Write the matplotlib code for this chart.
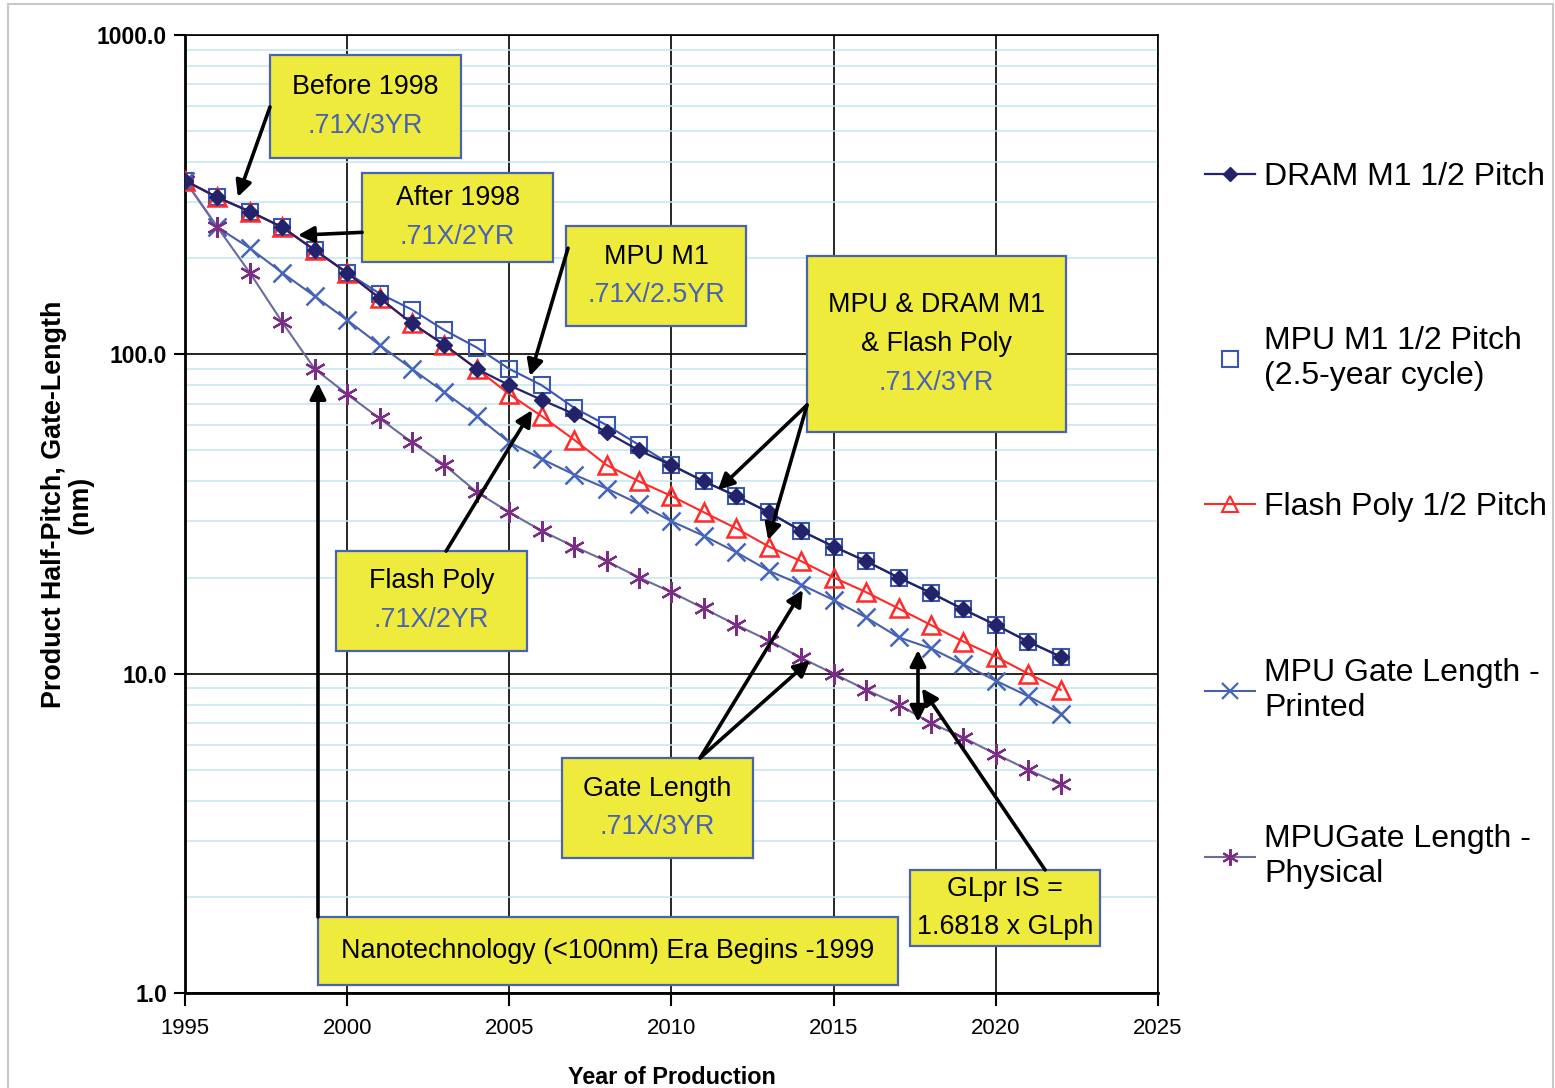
import matplotlib
matplotlib.use("Agg")
import matplotlib.pyplot as plt
from matplotlib import font_manager
from matplotlib.lines import Line2D
from matplotlib.patches import Rectangle
from matplotlib.ticker import LogLocator, NullFormatter

years = list(range(1995, 2023))

dram = [350, 310, 280, 250, 212, 180, 150, 125, 107, 90, 80, 72, 65, 57,
        50, 45, 40, 36, 32, 28, 25, 22.5, 20, 17.9, 15.9, 14.2, 12.6, 11.3]
mpu_m1 = [350, 310, 280, 250, 212, 180, 155, 138, 119, 105, 90, 80, 68, 60,
          52, 45, 40, 36, 32, 28, 25, 22.5, 20, 17.9, 15.9, 14.2, 12.6, 11.3]
flash = [350, 310, 280, 250, 212, 180, 150, 125, 107, 90, 75, 64, 54, 45,
         40, 36, 32, 28.5, 25, 22.5, 20, 18, 16, 14.2, 12.6, 11.3, 10, 8.9]
gl_printed = [350, 250, 215, 180, 152, 128, 107, 90, 76, 64, 53, 47, 42, 38,
              34, 30, 27, 24, 21, 19, 17, 15, 13, 12, 10.7, 9.5, 8.5, 7.5]
gl_physical = [350, 250, 180, 126, 90, 75, 63, 53, 45, 37, 32, 28, 25, 22.5,
               20, 18, 16, 14.2, 12.7, 11.2, 10, 8.9, 8, 7, 6.3, 5.6, 5, 4.5]

labels = ["DRAM M1 1/2 Pitch", "MPU M1 1/2 Pitch\n(2.5-year cycle)",
          "Flash Poly 1/2 Pitch", "MPU Gate Length -\nPrinted",
          "MPUGate Length -\nPhysical"]

ytick_vals = [1, 10, 100, 1000]
ytick_labels = ["1.0", "10.0", "100.0", "1000.0"]

names = {f.name for f in font_manager.fontManager.ttflist}
if "Liberation Sans Narrow" in names:
    narrow, nk = "Liberation Sans Narrow", 1.0
else:
    narrow, nk = "Liberation Sans", 0.84
plt.rcParams["font.family"] = ["Liberation Sans", "DejaVu Sans"]

W, H = 1555, 1088
fig = plt.figure(figsize=(W / 100, H / 100), dpi=100)
ax = fig.add_axes([185 / W, 1 - 993 / H, 973 / W, 958 / H])

fig.patches.append(Rectangle((8 / W, -0.01), 1 - 10 / W, 1 - 4 / H + 0.01,
                             transform=fig.transFigure, fill=False,
                             ec="#c8c8c8", lw=1.5))

c_dram = "#23236b"
c_mpu = "#3a56b0"
c_flash = "#ff2a2a"
c_pr = "#4466bb"
c_ph = "#7b2d86"

ax.plot(years, mpu_m1, color=c_mpu, lw=1.5, marker="s", ms=12, mfc="none",
        mec=c_mpu, mew=1.5, zorder=3)
ax.plot(years, dram, color=c_dram, lw=1.6, marker="D", ms=8, mfc=c_dram,
        mec=c_dram, zorder=5)
ax.plot(years, flash, color=c_flash, lw=1.5, marker="^", ms=13, mfc="none",
        mec=c_flash, mew=1.8, zorder=4)
ax.plot(years, gl_printed, color="#4a5fa8", lw=1.5, marker="x", ms=13,
        mec=c_pr, mew=1.8, zorder=3)
ax.plot(years, gl_physical, color="#6b6b9e", lw=1.5, marker=(6, 2, 0), ms=15,
        mec=c_ph, mew=1.6, zorder=3)

ax.set_yscale("log")
ax.set_ylim(1, 1000)
ax.set_xlim(1995, 2025)
ax.set_xticks(range(1995, 2026, 5))
ax.set_yticks(ytick_vals)
ax.set_yticklabels(ytick_labels)
ax.yaxis.set_minor_locator(LogLocator(base=10, subs=range(2, 10)))
ax.yaxis.set_minor_formatter(NullFormatter())
ax.tick_params(axis="y", which="minor", length=0)
ax.tick_params(axis="y", which="major", length=8, width=1.5, pad=5)
ax.tick_params(axis="x", which="major", length=9, width=1.5, pad=9)
for t in ax.get_yticklabels():
    t.set_fontsize(16.5)
    t.set_fontweight("bold")
for t in ax.get_xticklabels():
    t.set_fontsize(19 * nk)
    t.set_family(narrow)

ax.grid(which="major", color="black", lw=1.2)
ax.grid(which="minor", axis="y", color="#c5e5ef", lw=1.1)
ax.set_axisbelow(True)
for s in ax.spines.values():
    s.set_linewidth(1.2)
ax.spines["left"].set_linewidth(2)
ax.spines["bottom"].set_linewidth(2)

ax.set_ylabel("Product Half-Pitch, Gate-Length\n(nm)", fontsize=23 * nk,
              fontweight="bold", family=narrow, linespacing=1.05)
ax.yaxis.set_label_coords(-0.094, 0.51)
ax.set_xlabel("Year of Production", fontsize=20 * nk, fontweight="bold",
              family=narrow)
ax.xaxis.set_label_coords(0.5, -0.076)

# annotation boxes: (x0, x1, y0, y1) in data units
fs = 23 * nk
step = 28
yellow = "#eeeb3c"
blue_txt = "#4a63b0"


def box(ext, lines, colors):
    x0, x1, y0, y1 = ext
    ax.add_patch(Rectangle((x0, y0), x1 - x0, y1 - y0, fc=yellow,
                           ec="#4a63b0", lw=1.6, zorder=6))
    xc, yc = (x0 + x1) / 2, (y0 * y1) ** 0.5
    n = len(lines)
    for i, (ln, c) in enumerate(zip(lines, colors)):
        off = ((n - 1) / 2 - i) * step
        ax.annotate(ln, xy=(xc, yc), xytext=(0, off), textcoords="offset points",
                    ha="center", va="center", fontsize=fs, family=narrow,
                    color=c, zorder=7)


def arrow(start, tip, style="-|>"):
    ax.annotate("", xy=tip, xytext=start, zorder=8,
                arrowprops=dict(arrowstyle=style, color="black", lw=2.6,
                                mutation_scale=24, shrinkA=0, shrinkB=0))


box((1997.62, 2003.51, 412, 866), ["Before 1998", ".71X/3YR"], ["black", blue_txt])
arrow((1997.62, 595), (1996.63, 311))

box((2000.46, 2006.35, 194.7, 369.8), ["After 1998", ".71X/2YR"], ["black", blue_txt])
arrow((2000.46, 241), (1998.48, 236))

box((2006.75, 2012.30, 122.7, 252.3), ["MPU M1", ".71X/2.5YR"], ["black", blue_txt])
arrow((2006.81, 215), (2005.64, 85.5))

box((2014.18, 2022.16, 57.1, 203.2), ["MPU & DRAM M1", "& Flash Poly", ".71X/3YR"],
    ["black", "black", blue_txt])
arrow((2014.18, 69.4), (2011.43, 37.6))
arrow((2014.18, 69.4), (2012.98, 26.2))

box((1999.66, 2005.54, 11.78, 24.23), ["Flash Poly", ".71X/2YR"], ["black", blue_txt])
arrow((2003.05, 24.2), (2005.70, 66.9))

box((2006.62, 2012.51, 2.647, 5.445), ["Gate Length", ".71X/3YR"], ["black", blue_txt])
arrow((2010.88, 5.445), (2014.05, 18.3))
arrow((2010.88, 5.445), (2014.27, 11.0))

box((2017.35, 2023.21, 1.404, 2.428), ["GLpr IS =", "1.6818 x GLph"], ["black", "black"])
arrow((2021.52, 2.428), (2017.72, 9.0))
arrow((2017.60, 7.06), (2017.60, 11.86), style="<|-|>")

box((1999.10, 2016.98, 1.059, 1.730), ["Nanotechnology (<100nm) Era Begins -1999"], ["black"])
arrow((1999.10, 1.730), (1999.10, 81.4))

# legend
handles = [
    Line2D([], [], color=c_dram, lw=1.6, marker="D", ms=7, mfc=c_dram, mec=c_dram),
    Line2D([], [], ls="none", marker="s", ms=11, mfc="none", mec=c_mpu, mew=1.5),
    Line2D([], [], color=c_flash, lw=1.5, marker="^", ms=11, mfc="none",
           mec=c_flash, mew=1.5),
    Line2D([], [], color="#4a5fa8", lw=1.5, marker="x", ms=11, mec=c_pr, mew=1.6),
    Line2D([], [], color="#6b6b9e", lw=1.5, marker=(6, 2, 0), ms=12, mec=c_ph,
           mew=1.5),
]
leg_tops = [162, 326, 492, 658, 824]
for h, lab, top in zip(handles, labels, leg_tops):
    fig.legend([h], [lab], loc="upper left",
               bbox_to_anchor=(1205 / W, 1 - top / H), frameon=False,
               fontsize=23, handlelength=1.55, handletextpad=0.3,
               borderpad=0, borderaxespad=0, labelspacing=0)

fig.savefig("out.png", dpi=100)
